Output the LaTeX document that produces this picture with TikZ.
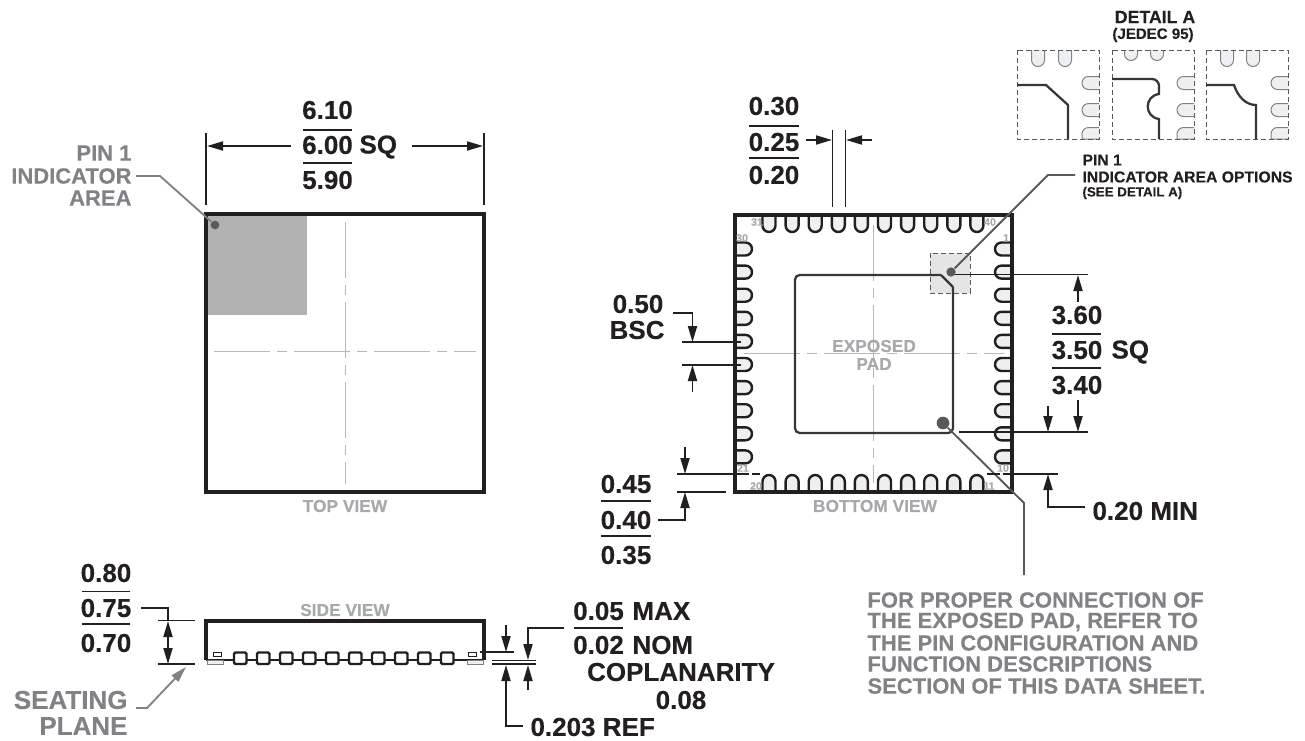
\documentclass[tikz,border=0pt]{standalone}
\usepackage{fontspec}
\setmainfont[BoldFeatures={FakeBold=0.25}]{Liberation Sans}
\usetikzlibrary{arrows.meta}
\definecolor{inkblack}{HTML}{231F20}
\definecolor{inkdark}{HTML}{58595B}
\definecolor{inkgray}{HTML}{808285}
\definecolor{inklight}{HTML}{A7A9AC}
\definecolor{padfill}{HTML}{EEEFF0}

\tikzset{every picture/.style={line width=0.75pt},
	dimtext/.style={inner sep=0pt,text=inkblack,font=\fontsize{19.5}{19.5}\selectfont\bfseries},
	graytext/.style={inner sep=0pt,text=inkgray,font=\fontsize{16.5}{16.5}\selectfont\bfseries},
	viewtext/.style={inner sep=0pt,text=inklight,font=\fontsize{13}{13}\selectfont\bfseries},
	pintext/.style={inner sep=0pt,text=inklight,font=\fontsize{8}{8}\selectfont\bfseries},
	optiontext/.style={inner sep=0pt,anchor=west,text=inkblack,font=\fontsize{11.8}{11.8}\selectfont\bfseries},
	body/.style={draw=inkblack,line width=2.3pt},
	pkgpad/.style={draw=inkblack,fill=padfill,line width=1.8pt},
	detailpad/.style={draw=inkgray,fill=padfill,line width=0.75pt},
	dimline/.style={draw=inkblack,line width=1.4pt},
	dimarrow/.style={dimline,-{Triangle[length=12pt,width=6.75pt]}},
	centerline/.style={draw=black!28,line width=0.7pt,dash pattern=on 42pt off 5pt on 8pt off 5pt},
	dashbox/.style={draw=inkdark,line width=0.75pt,dash pattern=on 3.6pt off 2.4pt},
	outline/.style={draw=inkblack!90,line width=1.7pt},
	leader/.style={draw=inkdark,line width=1.4pt},
	bluntdot/.style={circle,fill=inkdark,inner sep=0pt}
}

\begin{document}
\begin{tikzpicture}[x=0.75pt,y=0.75pt,yscale=-1,xscale=1]
	\useasboundingbox (0,0) rectangle (1305,740);

	%Top view
	\fill [black!30] (207,215) rectangle (307,315);
	\draw [centerline] (345,222) -- (345,484);
	\draw [centerline] (214,351) -- (476,351);
	\draw [body] (206,214) rectangle (484,492);
	\node [bluntdot,minimum size=6.5pt] (dottop) at (215,225) {};
	\node [graytext,anchor=east] (lblpinone) at (132,153) {PIN 1};
	\node [graytext,anchor=east] (lblindic) at (132,176) {INDICATOR};
	\node [graytext,anchor=east] (lblarea) at (132,198) {AREA};
	\draw [draw=inkgray,line width=1.4pt] ([xshift=3]lblindic.east) -- (160,176) -- (dottop);
	\node [viewtext] (lbltop) at (345,506) {TOP VIEW};

	%Width of the package
	\node [dimtext] (wmax) at (327.5,110) {6.10};
	\node [dimtext] (wnom) at (327.5,145) {6.00};
	\node [dimtext,anchor=west] (wsq) at (359,147) {SQ};
	\node [dimtext] (wmin) at (327.5,180) {5.90};
	\draw [dimline] (303,130) -- (352,130);
	\draw [dimline] (303,163) -- (352,163);
	\draw [dimline] (206,133) -- (206,205);
	\draw [dimline] (484,133) -- (484,205);
	\draw [dimarrow] (291,146) -- (207,146);
	\draw [dimarrow] (412,146) -- (483,146);

	%Bottom view
	\draw [centerline] (873.5,225) -- (873.5,483);
	\draw [centerline] (744,353) -- (1004,353);
	\foreach \n in {0,...,9} {
		\draw [pkgpad] (769+23.1*\n-6.5,215) -- ++(0,10.5) arc (180:0:6.5) -- ++(0,-10.5);
		\draw [pkgpad] (769+23.1*\n-6.5,492) -- ++(0,-10.5) arc (180:360:6.5) -- ++(0,10.5);
		\draw [pkgpad] (735,249+23.1*\n-6.5) -- ++(10.5,0) arc (-90:90:6.5) -- ++(-10.5,0);
		\draw [pkgpad] (1012,249+23.1*\n-6.5) -- ++(-10.5,0) arc (-90:-270:6.5) -- ++(10.5,0);
	}
	\draw [body] (735,215) rectangle (1012,492);
	\node [pintext] (pinthirtyone) at (757,222) {31};
	\node [pintext] (pinforty) at (990,222) {40};
	\node [pintext] (pinthirty) at (742,238) {30};
	\node [pintext] (pinone) at (1006,238) {1};
	\node [pintext] (pintwentyone) at (743,468) {21};
	\node [pintext] (pinten) at (1003,468) {10};
	\node [pintext] (pintwenty) at (756,486) {20};
	\node [pintext] (pineleven) at (989,486) {11};
	\node [viewtext] (lblbottom) at (875,506) {BOTTOM VIEW};

	%Exposed pad
	\fill [black!10] (930,253) rectangle (970,293);
	\draw [dashbox] (930,253) rectangle (970,293);
	\draw [outline,rounded corners=3.5pt] (941,275) -- (795,275) -- (795,433) -- (953,433) -- (953,287);
	\draw [outline] (941,275) -- (953,287);
	\node [viewtext] (lblexposed) at (874,346) {EXPOSED};
	\node [viewtext] (lblpad) at (874,364) {PAD};
	\node [bluntdot,minimum size=7pt] (dotoption) at (951,272) {};
	\node [bluntdot,minimum size=9.5pt] (dotpad) at (943,423) {};
	\node [optiontext] (lbldetailpin) at (1082,160) {PIN 1};
	\node [optiontext] (lbldetailarea) at (1082,177) {INDICATOR AREA OPTIONS};
	\node [optiontext,font=\fontsize{10}{10}\selectfont\bfseries] (lbldetailsee) at (1082,193) {(SEE DETAIL A)};
	\draw [leader] (dotoption) -- (1048,175) -- (1075,175);
	\draw [leader] (dotpad) -- (1024,503) -- (1024,575);
	\node [graytext,anchor=west] (noteone) at (867,600) {FOR PROPER CONNECTION OF};
	\node [graytext,anchor=west] (notetwo) at (867,622) {THE EXPOSED PAD, REFER TO};
	\node [graytext,anchor=west] (notethree) at (867,643) {THE PIN CONFIGURATION AND};
	\node [graytext,anchor=west] (notefour) at (867,664) {FUNCTION DESCRIPTIONS};
	\node [graytext,anchor=west] (notefive) at (867,686) {SECTION OF THIS DATA SHEET.};

	%Terminal width
	\node [dimtext] (tmax) at (774,106) {0.30};
	\node [dimtext] (tnom) at (774,142) {0.25};
	\node [dimtext] (tmin) at (774,175) {0.20};
	\draw [dimline] (749,126) -- (799,126);
	\draw [dimline] (749,158) -- (799,158);
	\draw [dimline] (832.5,130) -- (832.5,207);
	\draw [dimline] (845.5,130) -- (845.5,207);
	\draw [dimarrow] (806,140) -- (832,140);
	\draw [dimarrow] (872,140) -- (846,140);

	%Pitch
	\node [dimtext] (pitch) at (638,304) {0.50};
	\node [dimtext,anchor=east] (pitchbsc) at (665,330) {BSC};
	\draw [dimline] (682,342) -- (741,342);
	\draw [dimline] (682,365) -- (741,365);
	\draw [dimarrow] (673,313) -- (692.5,313) -- (692.5,342);
	\draw [dimarrow] (692.5,392) -- (692.5,365);

	%Terminal length
	\node [dimtext] (lmax) at (626,484) {0.45};
	\node [dimtext] (lnom) at (626,520) {0.40};
	\node [dimtext] (lmin) at (626,555) {0.35};
	\draw [dimline] (601,501) -- (651,501);
	\draw [dimline] (601,536) -- (651,536);
	\draw [dimline] (677,474) -- (749,474);
	\draw [dimline] (752,474) -- (760,474);
	\draw [dimline] (677,492) -- (726,492);
	\draw [dimarrow] (685,447) -- (685,474);
	\draw [dimarrow] (658,520) -- (685,520) -- (685,492);

	%Exposed pad size
	\node [dimtext] (pmax) at (1077,315) {3.60};
	\node [dimtext] (pnom) at (1077,350) {3.50};
	\node [dimtext,anchor=west] (psq) at (1111,352) {SQ};
	\node [dimtext] (pmin) at (1077,385) {3.40};
	\draw [dimline] (1052,334) -- (1101,334);
	\draw [dimline] (1052,368) -- (1101,368);
	\draw [dimline] (955,274.5) -- (1088,274.5);
	\draw [dimline] (959,432) -- (1088,432);
	\draw [dimarrow] (1078,302) -- (1078,275);
	\draw [dimarrow] (1078,400) -- (1078,432);
	\draw [dimarrow] (1048,406) -- (1048,432);

	%Minimum clearance
	\node [dimtext,anchor=west] (clear) at (1092,511) {0.20 MIN};
	\draw [dimline] (987,474) -- (1000,474);
	\draw [dimline] (1003,474) -- (1058,474);
	\draw [dimarrow] (1085,507) -- (1048,507) -- (1048,474);

	%Side view
	\node [viewtext] (lblside) at (345,610) {SIDE VIEW};
	\draw [body] (206,660) -- (206,621) -- (484,621) -- (484,660);
	\draw [pkgpad,fill=none] (206,660) -- (484,660);
	\foreach \n in {0,...,9} {
		\draw [pkgpad,fill=white,rounded corners=1pt] (234+23*\n,652.5) rectangle ++(12.5,11.5);
	}
	\draw [detailpad] (207,660.5) rectangle (223,664);
	\draw [detailpad] (467,660.5) rectangle (483,664);
	\draw [draw=inkblack,fill=white,line width=0.75pt] (213,652) rectangle (221,656.5);
	\draw [draw=inkblack,fill=white,line width=0.75pt] (468,652) rectangle (476,656.5);

	%Height
	\node [dimtext] (hmax) at (106,573) {0.80};
	\node [dimtext] (hnom) at (106,608) {0.75};
	\node [dimtext] (hmin) at (106,643) {0.70};
	\draw [dimline] (82,591.5) -- (130,591.5);
	\draw [dimline] (82,624) -- (130,624);
	\draw [dimline] (158,620.5) -- (195,620.5);
	\draw [dimline] (158,664) -- (195,664);
	\draw [dimline] (141,608) -- (168,608) -- (168,621);
	\draw [dimline,{Triangle[length=12pt,width=6.75pt]}-{Triangle[length=12pt,width=6.75pt]}] (168,621) -- (168,664);

	%Seating plane
	\node [dimtext,text=inkgray,anchor=east] (lblseating) at (128,700) {SEATING};
	\node [dimtext,text=inkgray,anchor=east] (lblplane) at (128,726) {PLANE};
	\draw [draw=inkgray,line width=1.4pt,-{Triangle[length=12pt,width=6.75pt]}] ([xshift=6,yshift=6]lblseating.east) -- (147,708) -- (186,667);

	%Coplanarity and terminal thickness
	\node [dimtext] (fmax) at (598.5,611) {0.05};
	\node [dimtext,anchor=west] (fmaxword) at (632,611) {MAX};
	\node [dimtext] (fnom) at (598.5,645) {0.02};
	\node [dimtext,anchor=west] (fnomword) at (632,645) {NOM};
	\node [dimtext] (copl) at (681,672) {COPLANARITY};
	\node [dimtext] (coplval) at (681,700) {0.08};
	\node [dimtext,anchor=west] (thick) at (530,727) {0.203 REF};
	\draw [dimline] (574,628) -- (623,628);
	\draw [dimline] (480,652) -- (514,652);
	\draw [dimline] (492,660.5) -- (536,660.5);
	\draw [dimline] (492,664) -- (536,664);
	\draw [dimarrow] (506,625) -- (506,652);
	\draw [dimarrow] (564,628) -- (528,628) -- (528,660);
	\draw [dimarrow] (523,726) -- (506,726) -- (506,665);
	\draw [dimarrow] (528,690) -- (528,665);

	%Detail A
	\node [inner sep=0pt,text=inkblack,font=\fontsize{13.3}{13.3}\selectfont\bfseries] (lbldetail) at (1155,17) {DETAIL A};
	\node [inner sep=0pt,text=inkblack,font=\fontsize{11.3}{11.3}\selectfont\bfseries] (lbljedec) at (1153,35) {(JEDEC 95)};
	\foreach \bx/\pa/\pb/\deep in {1017/1038/1065/10,1112/1131/1157/4,1206/1227/1253/10} {
		\draw [detailpad] (\pa-6.5,50) -- ++(0,\deep) arc (180:0:6.5) -- ++(0,-\deep);
		\draw [detailpad] (\pb-6.5,50) -- ++(0,\deep) arc (180:0:6.5) -- ++(0,-\deep);
		\draw [detailpad] (\bx+82,76.5) -- ++(-10.5,0) arc (-90:-270:6.5) -- ++(10.5,0);
		\draw [detailpad] (\bx+82,103.5) -- ++(-10.5,0) arc (-90:-270:6.5) -- ++(10.5,0);
		\draw [detailpad] (\bx+82,139) -- ++(-17,0) -- ++(0,-5) arc (180:270:6.5) -- ++(10.5,0);
		\draw [dashbox] (\bx,50) rectangle (\bx+82,139);
	}
	\draw [outline] (1017,85) -- (1046,85) -- (1068,105) -- (1068,139);
	\draw [outline] (1112,79) -- (1152,79) arc (-90:0:7) -- (1159,94) .. controls (1144,96) and (1144,117) .. (1159,119) -- (1159,139);
	\draw [outline] (1206,85) -- (1234,85) .. controls (1238,97) and (1246,105) .. (1256,105) -- (1256,139);
\end{tikzpicture}
\end{document}
